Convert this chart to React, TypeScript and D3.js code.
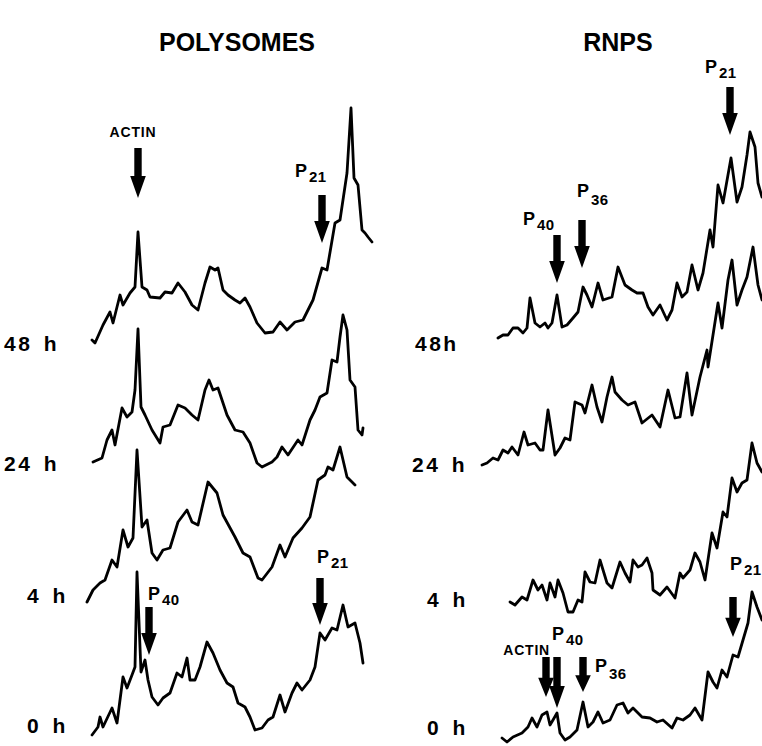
import * as d3 from 'd3';

// Densitometer scans: [scan position, relative absorbance]
const timeLabelsPoly = ['48 h', '24 h', '4 h', '0 h'];
const timeLabelsRnp = ['48h', '24 h', '4 h', '0 h'];

const poly48: [number, number][] = [
  [7, 5], [10, 2], [18, 20], [25, 33], [28, 22], [35, 50], [38, 40], [45, 52], [50, 58], [53, 113],
  [57, 58], [62, 55], [65, 48], [75, 47], [80, 53], [87, 52], [93, 62], [100, 53], [107, 40], [113, 35],
  [120, 62], [125, 78], [130, 75], [133, 77], [138, 55], [143, 50], [150, 45], [155, 42], [160, 47],
  [165, 38], [172, 22], [180, 12], [188, 13], [195, 23], [202, 15], [210, 23], [218, 25], [228, 45],
  [237, 77], [242, 75], [250, 122], [255, 125], [262, 172], [266, 237], [269, 167], [273, 160],
  [277, 115], [280, 112], [283, 108], [287, 103],
];
const poly24: [number, number][] = [
  [8, 5], [17, 9], [22, 27], [27, 37], [30, 22], [37, 59], [42, 50], [47, 55], [50, 77], [53, 138],
  [56, 60], [60, 52], [67, 37], [75, 24], [78, 40], [85, 42], [93, 62], [100, 59], [107, 52], [113, 47],
  [120, 77], [124, 87], [128, 77], [133, 79], [142, 52], [150, 37], [158, 35], [165, 24], [172, 4],
  [177, 0], [187, 5], [192, 10], [197, 20], [203, 12], [213, 27], [217, 22], [225, 47], [230, 57],
  [235, 70], [242, 74], [247, 107], [252, 105], [255, 130], [258, 152], [262, 137], [265, 87],
  [270, 80], [273, 37], [277, 32], [278, 39],
];
const poly4: [number, number][] = [
  [2, 3], [8, 15], [15, 22], [20, 25], [27, 45], [32, 38], [38, 75], [43, 58], [48, 67], [52, 155],
  [57, 78], [62, 85], [67, 52], [72, 45], [78, 55], [85, 57], [93, 83], [102, 95], [107, 83], [113, 80],
  [123, 123], [132, 112], [138, 90], [150, 68], [158, 52], [165, 48], [173, 27], [177, 25], [187, 38],
  [195, 60], [200, 48], [208, 67], [217, 77], [225, 88], [233, 125], [240, 130], [243, 138], [248, 135],
  [255, 158], [262, 128], [265, 125], [270, 120],
];
const poly0: [number, number][] = [
  [7, 7], [13, 15], [15, 25], [18, 15], [27, 34], [32, 19], [38, 65], [42, 54], [47, 67], [50, 75],
  [52, 170], [56, 70], [60, 82], [63, 62], [67, 45], [73, 37], [78, 44], [85, 49], [92, 69], [97, 65],
  [102, 84], [105, 62], [110, 62], [115, 75], [122, 100], [128, 89], [135, 72], [142, 59], [148, 55],
  [153, 39], [160, 35], [165, 25], [170, 12], [177, 14], [183, 22], [188, 25], [195, 47], [200, 30],
  [207, 49], [212, 59], [217, 52], [225, 62], [230, 75], [235, 109], [240, 102], [247, 114], [252, 112],
  [258, 137], [263, 115], [270, 119], [275, 99], [278, 79],
];

const rnp48: [number, number][] = [
  [23, 2], [28, 5], [33, 5], [38, 12], [43, 12], [48, 7], [52, 12], [55, 42], [60, 17], [65, 13],
  [70, 17], [73, 12], [77, 17], [82, 45], [87, 13], [92, 15], [98, 22], [103, 28], [108, 53], [112, 45],
  [117, 33], [123, 57], [128, 40], [137, 43], [143, 73], [150, 55], [157, 50], [162, 47], [168, 47],
  [173, 33], [178, 25], [185, 35], [192, 20], [197, 30], [202, 57], [207, 43], [212, 48], [217, 75],
  [223, 50], [228, 67], [235, 110], [238, 93], [243, 155], [248, 137], [256, 182], [262, 138],
  [267, 153], [272, 185], [275, 208], [280, 193], [283, 157], [287, 143],
];
const rnp24: [number, number][] = [
  [7, 2], [12, 4], [18, 9], [23, 7], [28, 17], [33, 14], [37, 20], [43, 12], [49, 35], [53, 22],
  [60, 24], [65, 17], [68, 17], [73, 57], [80, 12], [85, 19], [90, 29], [95, 27], [100, 65], [107, 62],
  [110, 54], [117, 82], [122, 60], [127, 45], [132, 70], [137, 90], [140, 75], [147, 67], [153, 62],
  [160, 65], [167, 44], [177, 52], [185, 40], [193, 77], [200, 49], [205, 50], [212, 94], [217, 52],
  [225, 90], [232, 117], [233, 100], [243, 164], [247, 139], [253, 187], [257, 207], [262, 162],
  [267, 177], [272, 190], [278, 220], [283, 182], [287, 167],
];
const rnp4: [number, number][] = [
  [35, 13], [40, 10], [47, 18], [52, 15], [58, 35], [63, 25], [67, 30], [72, 15], [75, 32], [80, 18],
  [83, 35], [88, 22], [93, 3], [98, 3], [103, 15], [107, 13], [110, 43], [115, 33], [120, 32], [125, 55],
  [132, 32], [137, 27], [145, 53], [150, 42], [155, 33], [158, 55], [163, 48], [167, 50], [172, 57],
  [177, 42], [178, 25], [185, 20], [192, 28], [200, 17], [205, 42], [208, 37], [215, 45], [220, 62],
  [225, 53], [230, 35], [237, 82], [242, 67], [248, 103], [252, 98], [257, 137], [262, 123], [267, 132],
  [272, 135], [277, 172], [282, 152], [287, 143],
];
const rnp0: [number, number][] = [
  [27, 7], [32, 3], [38, 8], [47, 12], [53, 18], [57, 27], [62, 18], [67, 30], [72, 33], [75, 20],
  [78, 25], [82, 32], [85, 12], [90, 5], [95, 8], [102, 15], [108, 43], [113, 18], [118, 23], [123, 33],
  [128, 22], [135, 25], [142, 40], [148, 42], [153, 32], [158, 37], [167, 28], [175, 27], [182, 23],
  [188, 25], [197, 17], [202, 27], [208, 25], [215, 30], [220, 37], [227, 25], [233, 73], [238, 63],
  [242, 57], [247, 75], [252, 68], [258, 90], [263, 88], [268, 105], [273, 122], [277, 153], [282, 138],
  [287, 125],
];

// marker arrows: trace index, scan position, tail/tip absorbance, label placement
type Marker = {
  name: string; sub?: string; trace: number; pos: number; tail: number; tip: number;
  lx: number; ly: number; anchor?: 'start' | 'middle' | 'end'; subDy?: number;
};
const polyMarkers: Marker[] = [
  { name: 'ACTIN', trace: 0, pos: 53, tail: 197, tip: 147, lx: 48, ly: 208, anchor: 'middle' },
  { name: 'P', sub: '21', trace: 0, pos: 237, tail: 150, tip: 102, lx: 210, ly: 168 },
  { name: 'P', sub: '40', trace: 3, pos: 64, tail: 135, tip: 87, lx: 63, ly: 142 },
  { name: 'P', sub: '21', trace: 3, pos: 235, tail: 164, tip: 117, lx: 232, ly: 179 },
];
const rnpMarkers: Marker[] = [
  { name: 'P', sub: '21', trace: 0, pos: 255, tail: 253, tip: 205, lx: 230, ly: 267 },
  { name: 'P', sub: '40', trace: 0, pos: 82, tail: 105, tip: 57, lx: 48, ly: 115 },
  { name: 'P', sub: '36', trace: 0, pos: 107, tail: 120, tip: 72, lx: 102, ly: 143, subDy: 8 },
  { name: 'ACTIN', trace: 3, pos: 71, tail: 88, tip: 48, lx: 75, ly: 90, anchor: 'end' },
  { name: 'P', sub: '40', trace: 3, pos: 82, tail: 88, tip: 37, lx: 77, ly: 105 },
  { name: 'P', sub: '36', trace: 3, pos: 108, tail: 88, tip: 53, lx: 120, ly: 73, subDy: 7 },
  { name: 'P', sub: '21', trace: 3, pos: 258, tail: 148, tip: 108, lx: 255, ly: 175 },
];

const W = 762;
const H = 746;
const FONT = '"Liberation Sans", Arial, sans-serif';

type PanelProps = {
  title: string;
  titleX: number;
  left: number;
  baselines: number[];
  traces: [number, number][][];
  labels: string[];
  labelPos: { x: number; y: number }[];
  markers: Marker[];
};

function Panel({ title, titleX, left, baselines, traces, labels, labelPos, markers }: PanelProps) {
  const x = d3.scaleLinear().domain([0, 290]).range([left, left + 290]);
  const yFor = (i: number) => d3.scaleLinear().domain([0, 250]).range([baselines[i], baselines[i] - 250]);

  return (
    <g>
      <text x={titleX} y={51} textAnchor="middle" fontFamily={FONT} fontWeight="bold" fontSize={25}>
        {title}
      </text>
      {traces.map((t, i) => {
        const y = yFor(i);
        const line = d3.line<[number, number]>().x(d => x(d[0])).y(d => y(d[1]));
        return (
          <path key={i} d={line(t) ?? ''} fill="none" stroke="#000" strokeWidth={2.8}
            strokeLinejoin="round" strokeLinecap="round" />
        );
      })}
      {labels.map((l, i) => (
        <text key={l + i} x={labelPos[i].x} y={labelPos[i].y} fontFamily={FONT} fontWeight="bold"
          fontSize={21} letterSpacing={2.5} wordSpacing={3}>
          {l}
        </text>
      ))}
      {markers.map((m, i) => {
        const y = yFor(m.trace);
        const cx = x(m.pos);
        const y0 = y(m.tail);
        const y1 = y(m.tip);
        const head = Math.min(22, (y1 - y0) * 0.48);
        const sw = 3.7;
        const hw = 7.8;
        const d = `M${cx - sw},${y0} L${cx + sw},${y0} L${cx + sw},${y1 - head} L${cx + hw},${y1 - head} ` +
          `L${cx},${y1} L${cx - hw},${y1 - head} L${cx - sw},${y1 - head} Z`;
        return (
          <g key={i}>
            <path d={d} fill="#000" />
            {m.sub ? (
              <text x={x(m.lx)} y={y(m.ly)} fontFamily={FONT} fontWeight="bold" fontSize={18}>
                {m.name}
                <tspan dx={2} dy={m.subDy ?? 5} fontSize={15} letterSpacing={0.5}>{m.sub}</tspan>
              </text>
            ) : (
              <text x={x(m.lx)} y={y(m.ly)} textAnchor={m.anchor ?? 'start'} fontFamily={FONT}
                fontWeight="bold" fontSize={14} letterSpacing={0.8}>
                {m.name}
              </text>
            )}
          </g>
        );
      })}
    </g>
  );
}

export default function App() {
  return (
    <svg width={W} height={H} viewBox={`0 0 ${W} ${H}`}
      style={{ position: 'absolute', left: 0, top: 0, background: '#fff', display: 'block' }}>
      <rect width={W} height={H} fill="#fff" />
      <Panel
        title="POLYSOMES"
        titleX={237}
        left={85}
        baselines={[345, 467, 605, 742]}
        traces={[poly48, poly24, poly4, poly0]}
        labels={timeLabelsPoly}
        labelPos={[
          { x: 4, y: 351 },
          { x: 4, y: 471 },
          { x: 27, y: 603 },
          { x: 27, y: 733 },
        ]}
        markers={polyMarkers}
      />
      <Panel
        title="RNPS"
        titleX={618}
        left={475}
        baselines={[340, 467, 615, 745]}
        traces={[rnp48, rnp24, rnp4, rnp0]}
        labels={timeLabelsRnp}
        labelPos={[
          { x: 415, y: 351 },
          { x: 412, y: 472 },
          { x: 427, y: 607 },
          { x: 427, y: 735 },
        ]}
        markers={rnpMarkers}
      />
    </svg>
  );
}
